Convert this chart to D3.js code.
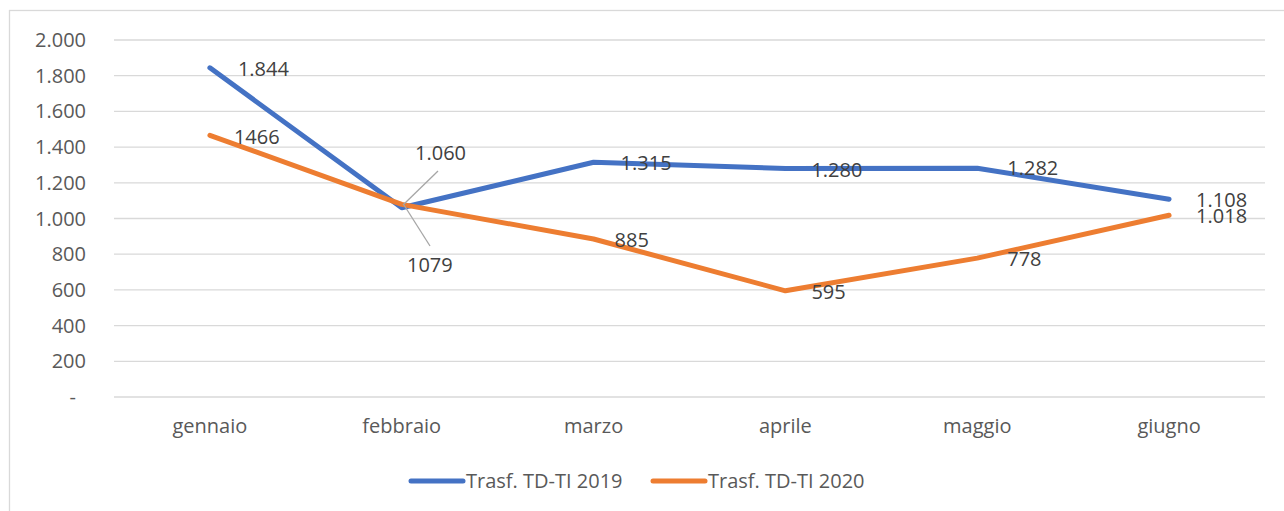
<!DOCTYPE html>
<html>
<head>
<meta charset="utf-8">
<script src="https://cdn.jsdelivr.net/npm/d3@7"></script>
<style>
  body { margin: 0; background: #fff; }
  svg { font-family: "Open Sans", sans-serif; }
</style>
</head>
<body>
<svg id="chart" width="1284" height="511"></svg>
<script>
var months = ["gennaio", "febbraio", "marzo", "aprile", "maggio", "giugno"];
var values2019 = [1844, 1060, 1315, 1280, 1282, 1108];
var values2020 = [1466, 1079, 885, 595, 778, 1018];
var labels2019 = ["1.844", "1.060", "1.315", "1.280", "1.282", "1.108"];
var labels2020 = ["1466", "1079", "885", "595", "778", "1.018"];
var yTicks = [0, 200, 400, 600, 800, 1000, 1200, 1400, 1600, 1800, 2000];
var seriesNames = ["Trasf. TD-TI 2019", "Trasf. TD-TI 2020"];

var svg = d3.select("#chart");
var W = 1284, H = 511;

// chart area border
svg.append("rect")
    .attr("x", 9.5).attr("y", 10.5)
    .attr("width", 1290).attr("height", 520)
    .attr("fill", "#fff").attr("stroke", "#d9d9d9").attr("stroke-width", 1.3);

var x = d3.scaleBand().domain(months).range([114, 1265]);
var y = d3.scaleLinear().domain([0, 2000]).range([397, 40]);
var cx = function (m) { return x(m) + x.bandwidth() / 2; };

// gridlines
svg.append("g").selectAll("line")
    .data(yTicks).enter().append("line")
    .attr("x1", 114).attr("x2", 1265)
    .attr("y1", function (d) { return y(d); })
    .attr("y2", function (d) { return y(d); })
    .attr("stroke", "#d9d9d9").attr("stroke-width", 1.3);

// y axis labels
var fmt = function (d) { return d === 0 ? "-" : d3.format(",")(d).replace(/,/g, "."); };
svg.append("g").selectAll("text")
    .data(yTicks).enter().append("text")
    .attr("x", function (d) { return d === 0 ? 76 : 86; })
    .attr("y", function (d) { return y(d); })
    .attr("dy", "0.35em")
    .attr("text-anchor", "end")
    .attr("font-size", 20).attr("fill", "#595959")
    .text(fmt);

// x axis labels
svg.append("g").selectAll("text")
    .data(months).enter().append("text")
    .attr("x", cx).attr("y", 433)
    .attr("text-anchor", "middle")
    .attr("font-size", 20).attr("fill", "#595959")
    .text(function (d) { return d; });

var series = [
    { name: seriesNames[0], values: values2019, labels: labels2019, color: "#4472c4" },
    { name: seriesNames[1], values: values2020, labels: labels2020, color: "#ed7d31" }
];

var line = d3.line()
    .x(function (d, i) { return cx(months[i]); })
    .y(function (d) { return y(d); });

series.forEach(function (s) {
    svg.append("path")
        .datum(s.values)
        .attr("d", line)
        .attr("fill", "none")
        .attr("stroke", s.color)
        .attr("stroke-width", 5)
        .attr("stroke-linecap", "round")
        .attr("stroke-linejoin", "round");
});

// data label placement (dx, dy from point); febbraio labels are moved with leader lines
var labelShift = [
    [[28, 1], null, [27, 1], [26, 1], [30, 0], [27, 1]],
    [[24, 2], null, [21, 1], [26, 1], [30, 1], [27, 1]]
];
var movedLabels = [
    { s: 0, i: 1, lx: 415, ly: 153, from: [438, 171], to: [403, 205] },
    { s: 1, i: 1, lx: 407, ly: 265, from: [430, 246], to: [404, 205] }
];

movedLabels.forEach(function (m) {
    svg.append("line")
        .attr("x1", m.from[0]).attr("y1", m.from[1])
        .attr("x2", m.to[0]).attr("y2", m.to[1])
        .attr("stroke", "#a6a6a6").attr("stroke-width", 1.3);
});

series.forEach(function (s, si) {
    svg.append("g").selectAll("text")
        .data(s.values).enter().append("text")
        .attr("x", function (d, i) {
            var sh = labelShift[si][i];
            if (sh) return cx(months[i]) + sh[0];
            return movedLabels.find(function (m) { return m.s === si && m.i === i; }).lx;
        })
        .attr("y", function (d, i) {
            var sh = labelShift[si][i];
            if (sh) return y(d) + sh[1];
            return movedLabels.find(function (m) { return m.s === si && m.i === i; }).ly;
        })
        .attr("dy", "0.35em")
        .attr("font-size", 20).attr("fill", "#404040")
        .text(function (d, i) { return s.labels[i]; });
});

// legend
var legendX = [411, 653];
series.forEach(function (s, i) {
    var g = svg.append("g").attr("transform", "translate(" + legendX[i] + ",481)");
    g.append("line")
        .attr("x1", 0).attr("x2", 52)
        .attr("stroke", s.color).attr("stroke-width", 5)
        .attr("stroke-linecap", "round");
    g.append("text")
        .attr("x", 55).attr("dy", "0.35em")
        .attr("font-size", 20).attr("fill", "#595959")
        .text(s.name);
});
</script>
</body>
</html>
